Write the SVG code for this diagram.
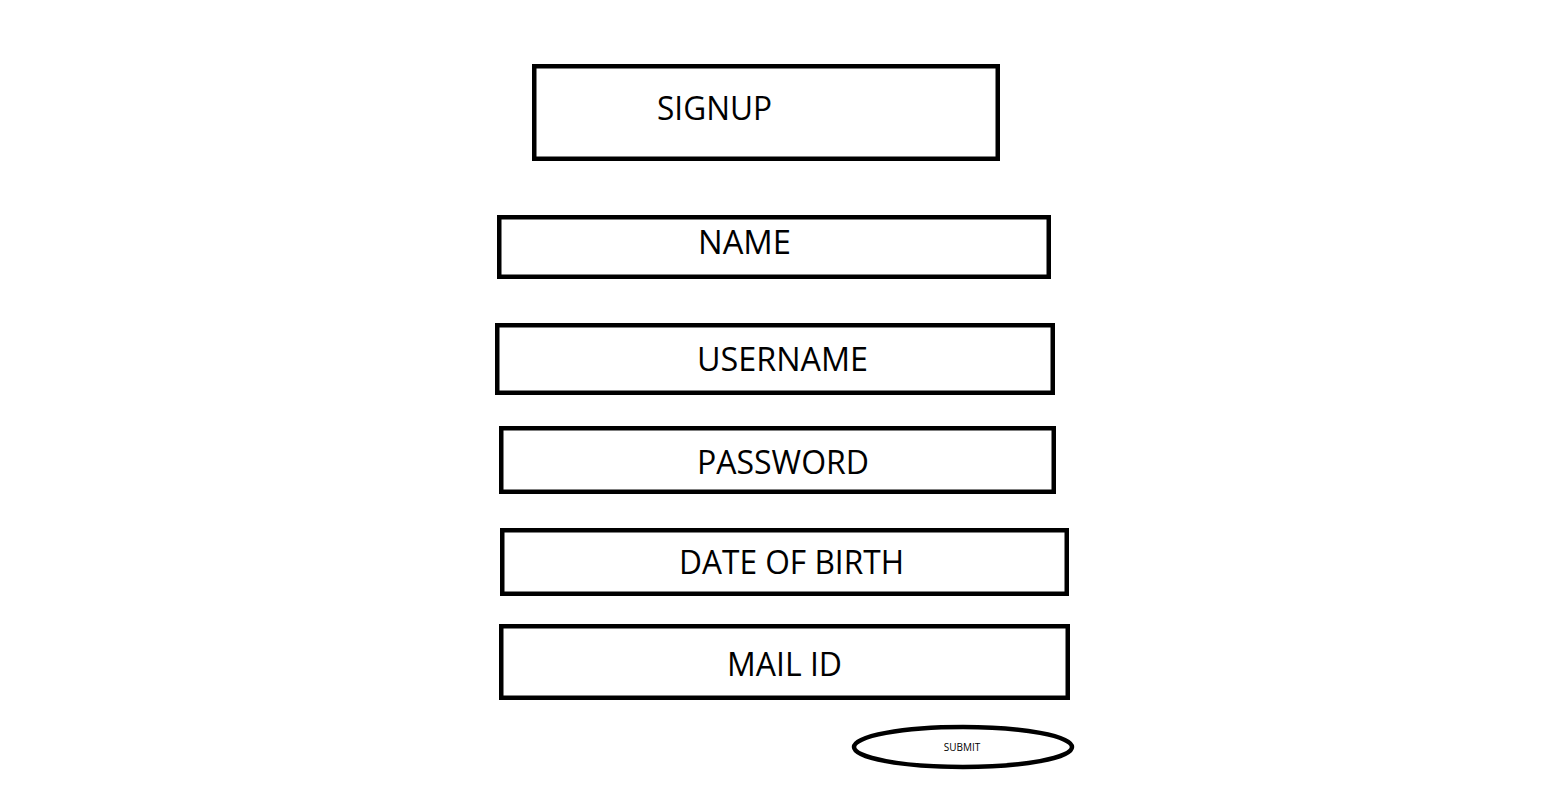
<svg xmlns="http://www.w3.org/2000/svg" width="1558" height="803" viewBox="0 0 1558 803">
<style>
.box{fill:#fff;stroke:#000;stroke-width:4.5}
.lbl{font-family:"Open Sans","Liberation Sans",sans-serif;font-size:32px;fill:#000}
.small{font-family:"Open Sans","Liberation Sans",sans-serif;font-size:10px;fill:#000}
</style>
<rect width="1558" height="803" fill="#fff"/>
<g id="connectors"></g>
<g id="signup">
<rect class="box" x="534.25" y="66.25" width="463.5" height="92.5"/>
<text class="lbl" x="657" y="120" textLength="115" lengthAdjust="spacingAndGlyphs">SIGNUP</text>
</g>
<g id="name">
<rect class="box" x="499.25" y="217.25" width="549.5" height="59.5"/>
<text class="lbl" x="698" y="254" textLength="93" lengthAdjust="spacingAndGlyphs">NAME</text>
</g>
<g id="username">
<rect class="box" x="497.25" y="325.25" width="555.5" height="67.5"/>
<text class="lbl" x="697" y="371" textLength="171" lengthAdjust="spacingAndGlyphs">USERNAME</text>
</g>
<g id="password">
<rect class="box" x="501.25" y="428.25" width="552.5" height="63.5"/>
<text class="lbl" x="697" y="474" textLength="172" lengthAdjust="spacingAndGlyphs">PASSWORD</text>
</g>
<g id="dob">
<rect class="box" x="502.25" y="530.25" width="564.5" height="63.5"/>
<text class="lbl" x="679" y="574" textLength="225" lengthAdjust="spacingAndGlyphs">DATE OF BIRTH</text>
</g>
<g id="mailid">
<rect class="box" x="501.25" y="626.25" width="566.5" height="71.5"/>
<text class="lbl" x="727" y="676" textLength="115" lengthAdjust="spacingAndGlyphs">MAIL ID</text>
</g>
<g id="submit">
<ellipse class="box" cx="963" cy="747" rx="109" ry="20"/>
<text class="small" x="962" y="751" text-anchor="middle">SUBMIT</text>
</g>
</svg>
